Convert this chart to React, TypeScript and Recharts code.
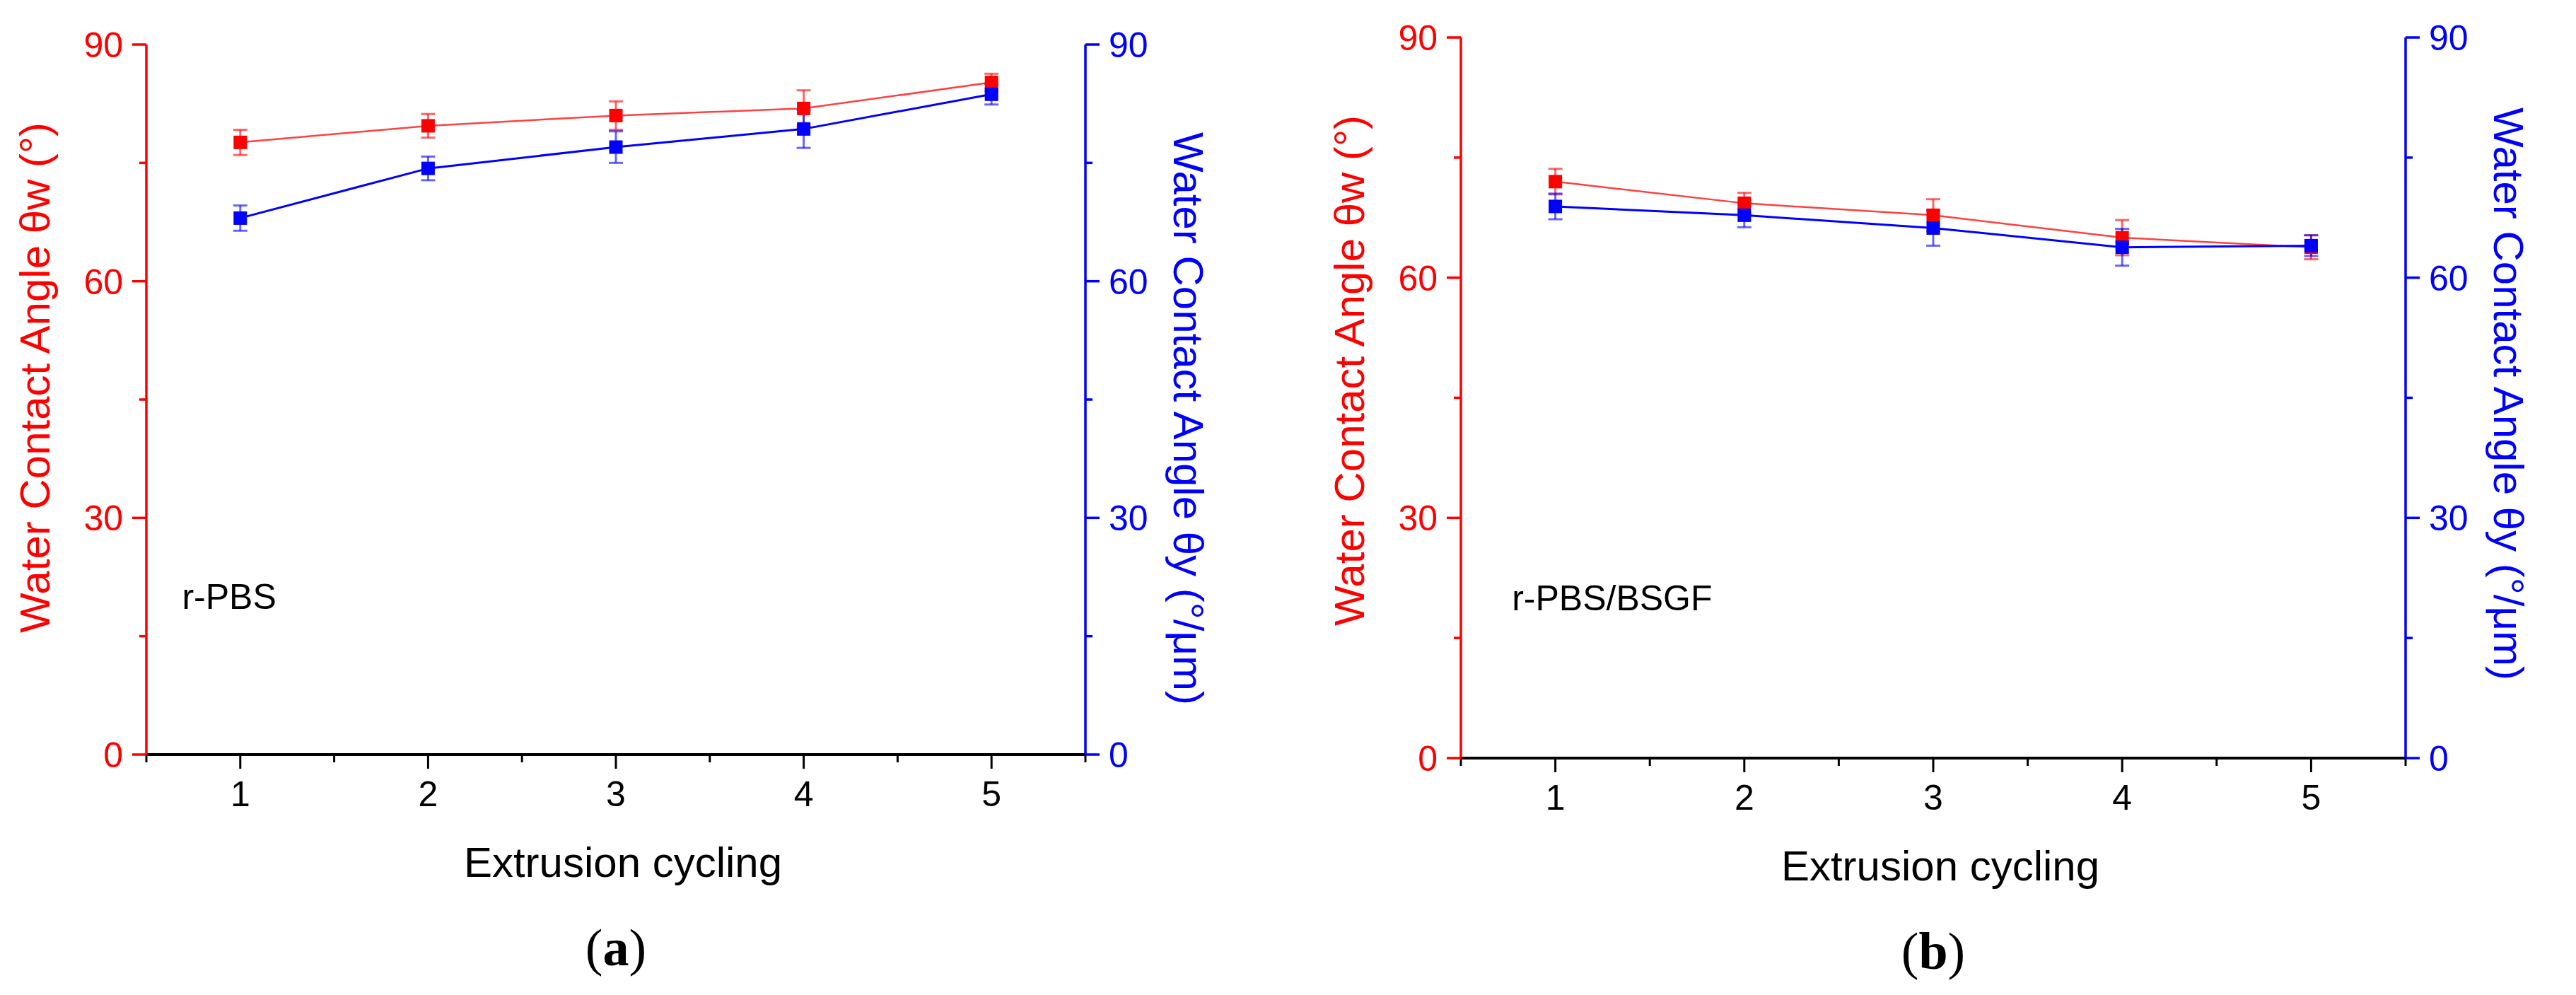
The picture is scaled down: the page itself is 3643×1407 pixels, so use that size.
import React from 'react';
import { ComposedChart, Line, XAxis, YAxis, ErrorBar, ReferenceDot } from 'recharts';

// ---------- data ----------
const cycles = [1, 2, 3, 4, 5];
const xTicks = [0.5, 1, 1.5, 2, 2.5, 3, 3.5, 4, 4.5, 5, 5.5];
const yTicks = [0, 15, 30, 45, 60, 75, 90];

// panel (a) r-PBS
const pbsThetaW = [77.6, 79.7, 81.0, 81.9, 85.2];
const pbsThetaWErr = [1.6, 1.5, 1.8, 2.3, 1.1];
const pbsThetaY = [68.0, 74.3, 77.0, 79.3, 83.7];
const pbsThetaYErr = [1.6, 1.5, 2.0, 2.4, 1.3];

// panel (b) r-PBS/BSGF
const bsgfThetaW = [72.0, 69.3, 67.8, 65.0, 63.8];
const bsgfThetaWErr = [1.6, 1.3, 2.0, 2.2, 1.5];
const bsgfThetaY = [68.9, 67.8, 66.2, 63.8, 64.0];
const bsgfThetaYErr = [1.6, 1.5, 2.2, 2.3, 1.3];

const redTitle = 'Water Contact Angle θw (°)';
const blueTitle = 'Water Contact Angle θy (°/μm)';
const xTitle = 'Extrusion cycling';

const FONT = '"Liberation Sans", Arial, Helvetica, sans-serif';
const RED = '#ff0000';
const BLUE = '#0000ff';

const XTick = (props: any) => {
  const { x, y, payload } = props;
  const v = payload.value;
  const major = Number.isInteger(v);
  return (
    <g>
      <line x1={x} x2={x} y1={y} y2={y + (major ? 20 : 11)} stroke="#000" strokeWidth={3} />
      {major && (
        <text x={x} y={y + 73} textAnchor="middle" fontSize={50} fill="#000" fontFamily={FONT}>
          {v}
        </text>
      )}
    </g>
  );
};

const makeYTick = (side: 'left' | 'right', color: string) => (props: any) => {
  const { x, y, payload } = props;
  const v = payload.value;
  const major = v % 30 === 0;
  const len = major ? 20 : 10;
  const dir = side === 'left' ? -1 : 1;
  return (
    <g>
      <line x1={x} x2={x + dir * len} y1={y} y2={y} stroke={color} strokeWidth={3.5} />
      {major && (
        <text
          x={x + dir * 33}
          y={y + 18}
          textAnchor={side === 'left' ? 'end' : 'start'}
          fontSize={50}
          fill={color}
          fontFamily={FONT}
        >
          {v}
        </text>
      )}
    </g>
  );
};

const squareDot = (color: string) => (props: any) => {
  const { cx, cy, index } = props;
  if (cx == null || cy == null) return <g key={`e-${index}`} />;
  return <rect key={`sq-${index}`} x={cx - 9.5} y={cy - 9.5} width={19} height={19} fill={color} />;
};

type PanelProps = {
  left: number;
  width: number;
  margin: { top: number; left: number; right: number; bottom: number };
  w: number[];
  wErr: number[];
  y: number[];
  yErr: number[];
  annotation: string;
  annotX: number;
  letter: string;
  redCenterY: number;
  blueCenterY: number;
};

function Panel(p: PanelProps) {
  const data = cycles.map((c, i) => ({
    cycle: c,
    w: p.w[i],
    wErr: p.wErr[i],
    y: p.y[i],
    yErr: p.yErr[i],
  }));
  const H = 1407;
  const yAxisW = 100;
  const xAxisH = 60;
  const plotLeft = p.margin.left + yAxisW;
  const plotRight = p.width - p.margin.right - yAxisW;
  const plotBottom = H - p.margin.bottom - xAxisH;
  const plotMid = (plotLeft + plotRight) / 2;

  const redLabel = () => {
    const bx = plotLeft - 137;
    const cy = p.redCenterY;
    return (
      <text
        x={bx}
        y={cy}
        transform={`rotate(-90, ${bx}, ${cy})`}
        textAnchor="middle"
        fontSize={60}
        fill={RED}
        fontFamily={FONT}
      >
        {redTitle}
      </text>
    );
  };
  const blueLabel = () => {
    const bx = plotRight + 125;
    const cy = p.blueCenterY;
    return (
      <text
        x={bx}
        y={cy}
        transform={`rotate(90, ${bx}, ${cy})`}
        textAnchor="middle"
        fontSize={60}
        fill={BLUE}
        fontFamily={FONT}
      >
        {blueTitle}
      </text>
    );
  };
  const xLabel = () => (
    <g>
      <text x={plotMid + 10} y={plotBottom + 173} textAnchor="middle" fontSize={60} fill="#000" fontFamily={FONT}>
        {xTitle}
      </text>
      <text
        x={plotMid}
        y={plotBottom + 298}
        textAnchor="middle"
        fontSize={74}
        fill="#000"
        fontFamily='"Liberation Serif", "Times New Roman", serif'
      >
        <tspan>(</tspan>
        <tspan fontWeight="bold">{p.letter}</tspan>
        <tspan>)</tspan>
      </text>
    </g>
  );
  const annotLabel = (props: any) => {
    const vb = props.viewBox || {};
    const x = vb.x ?? 0;
    const y = vb.y ?? 0;
    return (
      <text x={x} y={y} textAnchor="start" fontSize={50} fill="#000" fontFamily={FONT}>
        {p.annotation}
      </text>
    );
  };

  return (
    <div style={{ position: 'absolute', left: p.left, top: 0 }}>
      <ComposedChart width={p.width} height={H} data={data} margin={p.margin}>
        <XAxis
          xAxisId="b"
          dataKey="cycle"
          type="number"
          domain={[0.5, 5.5]}
          ticks={xTicks}
          interval={0}
          tickSize={0}
          tickMargin={0}
          tickLine={false}
          axisLine={{ stroke: '#000', strokeWidth: 4 }}
          tick={XTick}
          height={xAxisH}
          allowDataOverflow
          label={{ content: xLabel }}
        />
        <XAxis
          xAxisId="t"
          orientation="top"
          type="number"
          dataKey="cycle"
          domain={[0.5, 5.5]}
          height={0}
          tick={false}
          tickLine={false}
          axisLine={{ stroke: '#000', strokeWidth: 4 }}
          allowDataOverflow
        />
        <YAxis
          yAxisId="l"
          orientation="left"
          type="number"
          domain={[0, 90]}
          ticks={yTicks}
          interval={0}
          width={yAxisW}
          tickSize={0}
          tickMargin={0}
          tickLine={false}
          axisLine={{ stroke: RED, strokeWidth: 3.5 }}
          tick={makeYTick('left', RED)}
          allowDataOverflow
          label={{ content: redLabel }}
        />
        <YAxis
          yAxisId="r"
          orientation="right"
          type="number"
          domain={[0, 90]}
          ticks={yTicks}
          interval={0}
          width={yAxisW}
          tickSize={0}
          tickMargin={0}
          tickLine={false}
          axisLine={{ stroke: BLUE, strokeWidth: 3.5 }}
          tick={makeYTick('right', BLUE)}
          allowDataOverflow
          label={{ content: blueLabel }}
        />
        <ReferenceDot
          xAxisId="b"
          yAxisId="l"
          x={p.annotX}
          y={18.5}
          r={0}
          fill="none"
          stroke="none"
          label={{ content: annotLabel }}
        />
        <Line
          xAxisId="b"
          yAxisId="l"
          dataKey="w"
          stroke={RED}
          strokeWidth={2.5}
          strokeOpacity={0.75}
          dot={squareDot(RED)}
          activeDot={false}
          isAnimationActive={false}
        >
          <ErrorBar dataKey="wErr" direction="y" width={10} stroke={RED} strokeWidth={3} strokeOpacity={0.6} />
        </Line>
        <Line
          xAxisId="b"
          yAxisId="r"
          dataKey="y"
          stroke={BLUE}
          strokeWidth={3}
          dot={squareDot(BLUE)}
          activeDot={false}
          isAnimationActive={false}
        >
          <ErrorBar dataKey="yErr" direction="y" width={10} stroke={BLUE} strokeWidth={3} strokeOpacity={0.6} />
        </Line>
      </ComposedChart>
    </div>
  );
}

export default function App() {
  return (
    <div
      style={{
        position: 'absolute',
        left: 0,
        top: 0,
        width: 3643,
        height: 1407,
        background: '#fff',
        overflow: 'hidden',
      }}
    >
      <Panel
        left={0}
        width={1821}
        margin={{ top: 63, left: 107, right: 186, bottom: 280 }}
        w={pbsThetaW}
        wErr={pbsThetaWErr}
        y={pbsThetaY}
        yErr={pbsThetaYErr}
        annotation="r-PBS"
        annotX={0.69}
        letter="a"
        redCenterY={534}
        blueCenterY={592}
      />
      <Panel
        left={1821}
        width={1822}
        margin={{ top: 53, left: 145, right: 141, bottom: 275 }}
        w={bsgfThetaW}
        wErr={bsgfThetaWErr}
        y={bsgfThetaY}
        yErr={bsgfThetaYErr}
        annotation="r-PBS/BSGF"
        annotX={0.77}
        letter="b"
        redCenterY={524}
        blueCenterY={557}
      />
    </div>
  );
}
